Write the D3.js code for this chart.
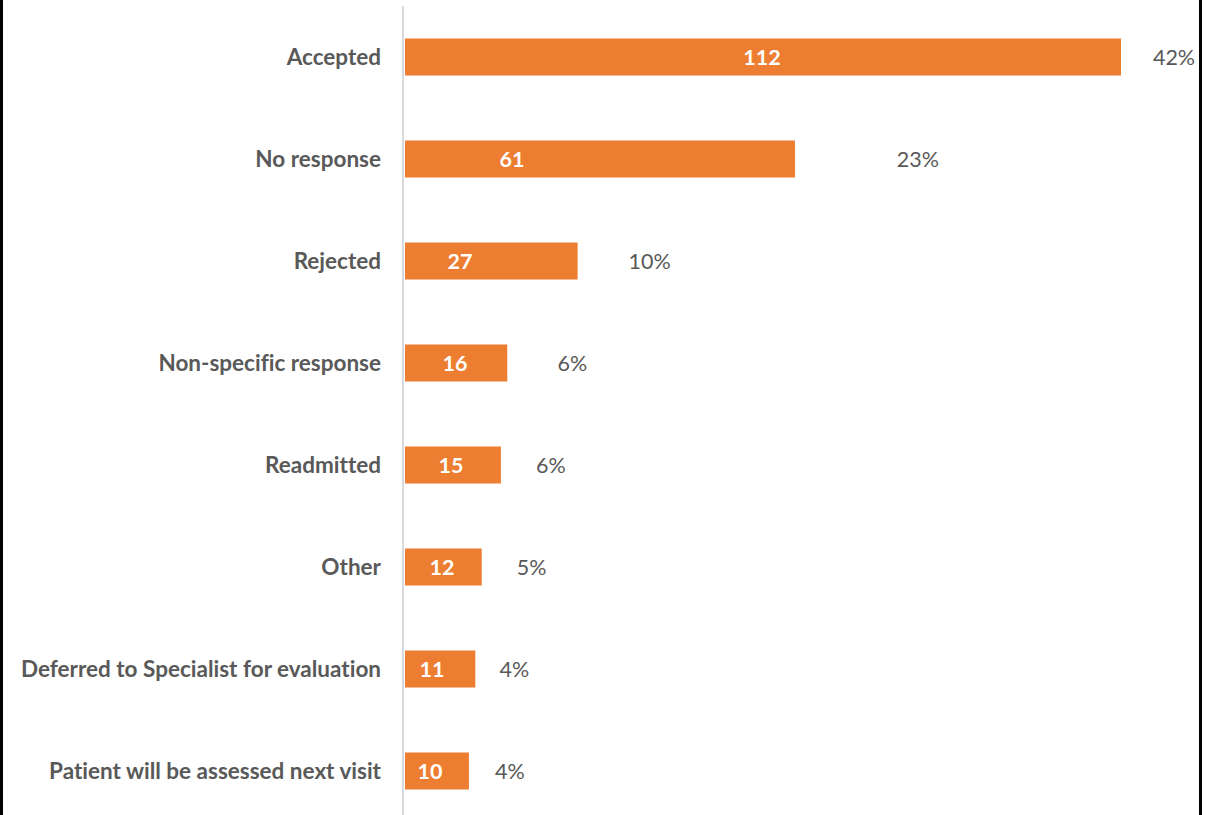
<!DOCTYPE html>
<html>
<head>
<meta charset="utf-8">
<script src="https://cdn.jsdelivr.net/npm/d3@7"></script>
<style>
  html, body { margin: 0; padding: 0; background: #fff; }
  svg { display: block; }
  text { font-variant-ligatures: none; }
</style>
</head>
<body>
<svg id="chart" width="1211" height="815"></svg>
<script>
// Outcome of recommendations: counts and share of total
const categories = [
  "Accepted",
  "No response",
  "Rejected",
  "Non-specific response",
  "Readmitted",
  "Other",
  "Deferred to Specialist for evaluation",
  "Patient will be assessed next visit"
];
const counts = [112, 61, 27, 16, 15, 12, 11, 10];
const percentLabels = ["42%", "23%", "10%", "6%", "6%", "5%", "4%", "4%"];

// Hand-placed label anchors (pixels): count label centre from bar start,
// percent label centre from bar end
const countLabelDx = [357, 107, 55, 50, 46, 37, 27, 25];
const pctLabelDx = [53, 123, 72, 65, 50, 50, 39, 41];

const W = 1211, H = 815;
const ORANGE = "#ED7D31", TEXT = "#595959", AXIS = "#D9D9D9";
const FONT = "Lato, 'Open Sans', sans-serif";

const svg = d3.select("#chart");

const x = d3.scaleLinear()
  .domain([0, d3.max(counts)])
  .range([405, 1121]);

const y = d3.scaleBand()
  .domain(categories)
  .range([6, 822])
  .paddingInner(0.637)
  .paddingOuter(0.3185);

// frame edges
svg.append("rect").attr("x", 0).attr("y", 0).attr("width", 3).attr("height", H).attr("fill", "#000");
svg.append("rect").attr("x", 1199).attr("y", 0).attr("width", 3).attr("height", H).attr("fill", "#000");

// category axis line
svg.append("line")
  .attr("x1", 403).attr("x2", 403)
  .attr("y1", 6).attr("y2", H)
  .attr("stroke", AXIS).attr("stroke-width", 2);

const rows = categories.map((c, i) => ({ c, v: counts[i], p: percentLabels[i], i }));

// bars
svg.append("g").selectAll("rect")
  .data(rows)
  .join("rect")
  .attr("x", x(0))
  .attr("y", d => y(d.c))
  .attr("width", d => x(d.v) - x(0))
  .attr("height", y.bandwidth())
  .attr("fill", ORANGE);

// category labels
svg.append("g").selectAll("text")
  .data(rows)
  .join("text")
  .attr("x", 381)
  .attr("y", d => y(d.c) + y.bandwidth() / 2)
  .attr("dy", "0.36em")
  .attr("text-anchor", "end")
  .attr("font-family", FONT)
  .attr("font-weight", "bold")
  .attr("font-size", 22.5)
  .attr("fill", TEXT)
  .text(d => d.c);

// counts inside bars
svg.append("g").selectAll("text")
  .data(rows)
  .join("text")
  .attr("x", d => x(0) + countLabelDx[d.i])
  .attr("y", d => y(d.c) + y.bandwidth() / 2)
  .attr("dy", "0.36em")
  .attr("text-anchor", "middle")
  .attr("font-family", FONT)
  .attr("font-weight", "bold")
  .attr("font-size", 21.5)
  .attr("fill", "#fff")
  .text(d => d.v);

// percentage labels
svg.append("g").selectAll("text")
  .data(rows)
  .join("text")
  .attr("x", d => x(d.v) + pctLabelDx[d.i])
  .attr("y", d => y(d.c) + y.bandwidth() / 2)
  .attr("dy", "0.36em")
  .attr("text-anchor", "middle")
  .attr("font-family", FONT)
  .attr("font-size", 21.5)
  .attr("fill", TEXT)
  .text(d => d.p);
</script>
</body>
</html>
